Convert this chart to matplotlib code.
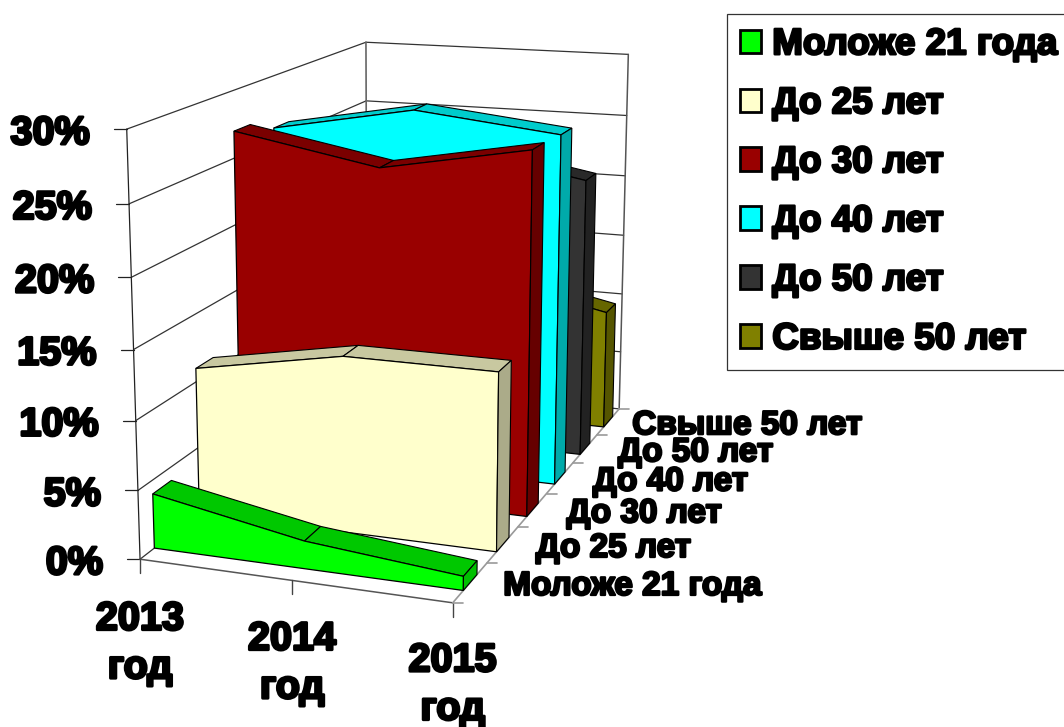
import matplotlib
matplotlib.use('Agg')
import matplotlib.pyplot as plt
import matplotlib.patheffects as pe
from matplotlib.patches import Polygon, Patch
import numpy as np

years = ['2013\nгод', '2014\nгод', '2015\nгод']
series = ['Моложе 21 года', 'До 25 лет', 'До 30 лет', 'До 40 лет', 'До 50 лет', 'Свыше 50 лет']
ticks_pct = [0, 5, 10, 15, 20, 25, 30]

young = [4, 2, 1]
to25 = [11, 13, 13]
to30 = [27, 25, 27]
to40 = [26, 28, 26.8]
to50 = [23, 24, 22]
over50 = [11, 12, 9.7]
values = [young, to25, to30, to40, to50, over50]

front_cols = ['#00FF00', '#FFFFCC', '#990000', '#00FFFF', '#333333', '#808000']
top_cols = ['#00C800', '#C8C8A0', '#7A0000', '#00CCCC', '#292929', '#666600']
side_cols = ['#00C000', '#ABAB89', '#660000', '#00AAAA', '#222222', '#555500']

# camera: box corners and ticks as seen in the picture -> (x 0-1, depth 0-1, height 0-1)
anchors = [
    (0, 0, 0, 140, 558), (0, 0, 1/6, 138, 491), (0, 0, 5/6, 129, 204), (0, 0, 1, 127, 129),
    (0, 1, 1, 366, 42), (0, 1, 5/6, 366, 101), (1, 0, 0, 452, 602), (1, 1, 0, 618, 409),
    (1, 1, 1, 628, 54), (1, 1, 5/6, 627, 116), (0.5, 0, 0, 292, 582), (1, 1/6, 0, 487, 563),
    (1, 2/6, 0, 518, 527), (1, 3/6, 0, 547, 493), (1, 4/6, 0, 573, 463), (1, 5/6, 0, 598, 435),
]
rows = []
for a, b, c, u, v in anchors:
    rows.append([a, b, c, 1, 0, 0, 0, 0, -u*a, -u*b, -u*c, -u])
    rows.append([0, 0, 0, 0, a, b, c, 1, -v*a, -v*b, -v*c, -v])
P = np.linalg.svd(np.array(rows))[2][-1].reshape(3, 4)


def proj(x, d, v):
    p = P @ np.array([x, d, v, 1.0])
    return p[0]/p[2], p[1]/p[2]


def seg(ax, a, b, color, lw=0.9):
    ax.plot([a[0], b[0]], [a[1], b[1]], color=color, lw=lw, solid_capstyle='round', zorder=1)


FONT = 'Liberation Sans'


def label(ax, x, y, s, size, ha='center', stroke=2.0, zorder=5, **kw):
    ax.text(x, y, s, fontsize=size, family=FONT, weight='bold', ha=ha, va='center', zorder=zorder,
            path_effects=[pe.withStroke(linewidth=stroke, foreground='black')], **kw)


fig = plt.figure(figsize=(10.64, 7.27), dpi=100)
ax = fig.add_axes([0, 0, 1, 1])
ax.set_xlim(0, 1064)
ax.set_ylim(727, 0)
ax.axis('off')

# walls
for t in ticks_pct:
    v = t/30
    fl = proj(0, 0, v)
    bl = proj(0, 1, v)
    br = proj(1, 1, v)
    seg(ax, fl, bl, '#333333')
    seg(ax, bl, br, '#333333')
    seg(ax, (fl[0]-13, fl[1]), fl, '#222222')
    label(ax, fl[0]-37, fl[1]+4, '%d%%' % t, 28.5, ha='right')
seg(ax, proj(0, 0, 0), proj(0, 0, 1), '#222222')
seg(ax, proj(0, 1, 0), proj(0, 1, 1), '#666666', 1.2)
seg(ax, proj(1, 1, 0), proj(1, 1, 1), '#555555', 1.1)

# floor
seg(ax, proj(0, 0, 0), proj(1, 0, 0), '#555555', 1.1)
seg(ax, proj(1, 0, 0), proj(1, 1, 0), '#999999', 1.2)
for i in range(len(years)):
    x0, y0 = proj(i/2, 0, 0)
    seg(ax, (x0, y0), (x0, y0+14), '#444444', 1.0)
for i in range(len(series)+1):
    x0, y0 = proj(1, i/6, 0)
    seg(ax, (x0, y0), (x0+10, y0), '#999999', 1.2)

# areas, back row first
z = 2
for s in range(5, -1, -1):
    d0 = (s+0.3)/6
    d1 = (s+0.7)/6
    vals = [w/30 for w in values[s]]
    xs = [0, 0.5, 1]
    for i in range(2):
        quad = [proj(xs[i], d0, vals[i]), proj(xs[i+1], d0, vals[i+1]),
                proj(xs[i+1], d1, vals[i+1]), proj(xs[i], d1, vals[i])]
        ax.add_patch(Polygon(quad, closed=True, fc=top_cols[s], ec='black', lw=0.8, zorder=z))
    face = [proj(x, d0, v) for x, v in zip(xs, vals)] + [proj(1, d0, 0), proj(0, d0, 0)]
    ax.add_patch(Polygon(face, closed=True, fc=front_cols[s], ec='black', lw=0.9, zorder=z))
    cap = [proj(1, d0, vals[2]), proj(1, d1, vals[2]), proj(1, d1, 0), proj(1, d0, 0)]
    ax.add_patch(Polygon(cap, closed=True, fc=side_cols[s], ec='black', lw=0.8, zorder=z))
    z += 1

# category labels
year_y = [643, 663, 684.5]
for i, yr in enumerate(years):
    x0 = proj(i/2, 0, 0)[0]
    label(ax, x0, year_y[i], yr, 28.5, linespacing=1.35)
depth_dx = [33, 33, 34, 33, 33, 24]
for i, name in enumerate(series):
    x0, y0 = proj(1, (i+0.5)/6, 0)
    label(ax, x0+depth_dx[i], y0+4, name, 24, ha='left', stroke=1.7)

# legend
handles = [Patch(fc=c, ec='black', lw=2) for c in front_cols]
leg = ax.legend(handles, series, loc='upper left', bbox_to_anchor=(727, 14), bbox_transform=ax.transData,
                prop={'family': FONT, 'weight': 'bold', 'size': 26.5}, frameon=True, fancybox=False,
                edgecolor='#333333', framealpha=1, borderaxespad=0, handlelength=0.57, handleheight=0.6,
                handletextpad=0.3, labelspacing=0.65, borderpad=0.36)
leg.get_frame().set_linewidth(0.9)
leg.set_zorder(10)
for t in leg.get_texts():
    t.set_path_effects([pe.withStroke(linewidth=1.8, foreground='black')])

fig.savefig('out.png', dpi=100)
